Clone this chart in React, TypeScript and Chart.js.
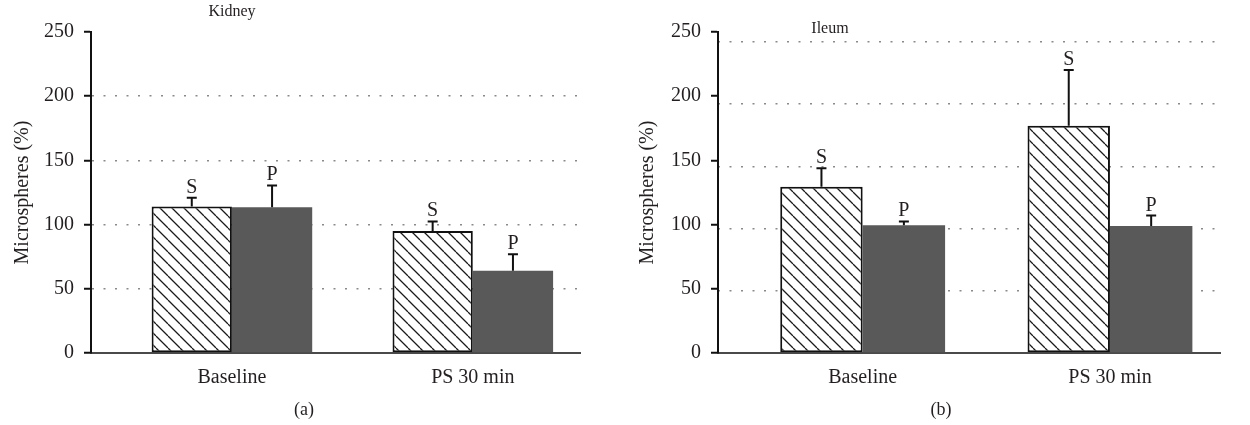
import { useEffect, useRef } from 'react';
import { Chart, registerables } from 'chart.js';
Chart.register(...registerables);

// ---- data ----
const categories = ['Baseline', 'PS 30 min'];
const seriesNames = ['S', 'P'];
const yTicks = [0, 50, 100, 150, 200, 250];
const panelTitles = ['Kidney', 'Ileum'];
const panelLetters = ['(a)', '(b)'];

const kidneyS = [114, 95];
const kidneyP = [113.5, 64];
const kidneySErr = [7, 7.5];
const kidneyPErr = [17, 13];

const ileumS = [129.5, 177];
const ileumP = [99.5, 99];
const ileumSErr = [14.3, 43.5];
const ileumPErr = [3, 8];

const FONT = '"Liberation Serif", "DejaVu Serif", serif';
const TEXT = '#231f20';

function makeHatch(): CanvasPattern | string {
  const p = 12;
  const c = document.createElement('canvas');
  c.width = p;
  c.height = p;
  const g = c.getContext('2d');
  if (!g) return '#fff';
  g.fillStyle = '#fff';
  g.fillRect(0, 0, p, p);
  g.strokeStyle = '#1a1a1a';
  g.lineWidth = 1.3;
  g.beginPath();
  for (let k = -1; k <= 1; k++) {
    g.moveTo(k * p, 0);
    g.lineTo(k * p + p, p);
  }
  g.stroke();
  return g.createPattern(c, 'repeat') || '#fff';
}

const errorPlugin = {
  id: 'errBars',
  afterDatasetsDraw(chart: any, _args: any, opts: any) {
    const { ctx } = chart;
    const ys = chart.scales.y;
    chart.data.datasets.forEach((ds: any, i: number) => {
      const meta = chart.getDatasetMeta(i);
      const errs = opts.errors[i];
      meta.data.forEach((el: any, j: number) => {
        const v = ds.data[j].y;
        const x = el.x;
        const y0 = ys.getPixelForValue(v);
        const y1 = ys.getPixelForValue(v + errs[j]);
        ctx.save();
        ctx.strokeStyle = '#111';
        ctx.lineWidth = 2;
        ctx.beginPath();
        ctx.moveTo(x, y0);
        ctx.lineTo(x, y1);
        ctx.moveTo(x - 5, y1);
        ctx.lineTo(x + 5, y1);
        ctx.stroke();
        ctx.fillStyle = TEXT;
        ctx.font = `20px ${FONT}`;
        ctx.textAlign = 'center';
        ctx.textBaseline = 'alphabetic';
        ctx.fillText(ds.label, x, y1 - 5);
        ctx.restore();
      });
    });
  },
};

const textPlugin = {
  id: 'panelText',
  afterDraw(chart: any, _args: any, opts: any) {
    const { ctx } = chart;
    ctx.save();
    ctx.fillStyle = TEXT;
    ctx.textAlign = 'center';
    ctx.textBaseline = 'middle';
    ctx.font = `16px ${FONT}`;
    ctx.fillText(opts.title, opts.titleX, opts.titleY);
    ctx.font = `18px ${FONT}`;
    ctx.fillText(opts.letter, opts.letterX, opts.letterY);
    ctx.restore();
  },
};

interface PanelProps {
  s: number[];
  p: number[];
  sErr: number[];
  pErr: number[];
  title: string;
  letter: string;
  axisWidth: number;
  rightPad: number;
  titleX: number;
  titleY: number;
  letterX: number;
  letterY: number;
  shiftedGrid: boolean;
  left: number;
}

const DOT_DASH = [2, 9.5];

function Panel(props: PanelProps) {
  const ref = useRef<HTMLCanvasElement>(null);
  useEffect(() => {
    if (!ref.current) return;
    const hatch = makeHatch();
    const dotted = '#8a8a8a';
    const scales: any = {
      x: {
        type: 'linear',
        min: 0.415,
        max: 2.445,
        offset: false,
        grid: { display: false, offset: false },
        border: { display: true, color: '#4a4a4a', width: 2 },
        afterBuildTicks: (scale: any) => {
          scale.ticks = categories.map((_, i) => ({ value: i + 1 }));
        },
        afterFit: (scale: any) => {
          scale.height = 72;
        },
        ticks: {
          autoSkip: false,
          maxRotation: 0,
          padding: 5,
          color: TEXT,
          font: { family: FONT, size: 20 },
          callback: (v: number) => categories[v - 1],
        },
      },
      y: {
        type: 'linear',
        min: 0,
        max: 250,
        afterBuildTicks: (scale: any) => {
          scale.ticks = yTicks.map((v) => ({ value: v }));
        },
        afterFit: (scale: any) => {
          scale.width = props.axisWidth;
        },
        border: { display: true, color: '#111', width: 2, dash: DOT_DASH, dashOffset: 0 },
        grid: {
          color: (c: any) =>
            !props.shiftedGrid && c.tick && c.tick.value > 0 && c.tick.value < 250 ? dotted : 'rgba(0,0,0,0)',
          lineWidth: 1.5,
          tickColor: '#111',
          tickWidth: 2,
          tickBorderDash: [],
          tickLength: 7,
          drawTicks: true,
        },
        ticks: {
          padding: 10,
          color: TEXT,
          font: { family: FONT, size: 20 },
        },
        title: {
          display: true,
          text: 'Microspheres (%)',
          color: TEXT,
          font: { family: FONT, size: 20 },
          padding: { top: 11, bottom: 0 },
        },
      },
    };
    if (props.shiftedGrid) {
      scales.y2 = {
        type: 'linear',
        position: 'left',
        min: 0,
        max: 258,
        afterBuildTicks: (scale: any) => {
          scale.ticks = yTicks.map((v) => ({ value: v }));
        },
        afterFit: (scale: any) => {
          scale.width = 0;
        },
        ticks: { display: false },
        border: { display: false, dash: DOT_DASH, dashOffset: 0 },
        grid: {
          color: (c: any) => (c.tick && c.tick.value > 0 ? dotted : 'rgba(0,0,0,0)'),
          lineWidth: 1.5,
          drawTicks: false,
        },
      };
    }
    const chart = new Chart(ref.current, {
      type: 'bar',
      data: {
        datasets: [
          {
            label: seriesNames[0],
            data: categories.map((_, i) => ({ x: i + 1, y: props.s[i] })),
            backgroundColor: hatch as any,
            borderColor: '#111',
            borderWidth: 2,
            borderSkipped: false,
          },
          {
            label: seriesNames[1],
            data: categories.map((_, i) => ({ x: i + 1, y: props.p[i] })),
            backgroundColor: '#595959',
            borderWidth: 0,
          },
        ],
      },
      options: {
        animation: false,
        responsive: false,
        maintainAspectRatio: false,
        categoryPercentage: 2 / 3,
        barPercentage: 1,
        layout: { padding: { left: 0, top: 32, right: props.rightPad, bottom: 0 } },
        scales,
        plugins: {
          legend: { display: false },
          tooltip: { enabled: false },
          errBars: { errors: [props.sErr, props.pErr] },
          panelText: {
            title: props.title,
            letter: props.letter,
            titleX: props.titleX,
            titleY: props.titleY,
            letterX: props.letterX,
            letterY: props.letterY,
          },
        } as any,
      } as any,
      plugins: [errorPlugin, textPlugin],
    });
    return () => chart.destroy();
  }, []);
  return (
    <canvas
      ref={ref}
      width={625}
      height={425}
      style={{ position: 'absolute', left: props.left, top: 0, width: 625, height: 425 }}
    />
  );
}

export default function App() {
  return (
    <div style={{ position: 'absolute', left: 0, top: 0, width: 1250, height: 425, background: '#fff' }}>
      <Panel
        s={kidneyS}
        p={kidneyP}
        sErr={kidneySErr}
        pErr={kidneyPErr}
        title={panelTitles[0]}
        letter={panelLetters[0]}
        axisWidth={91}
        rightPad={45}
        titleX={232}
        titleY={12}
        letterX={304}
        letterY={410}
        shiftedGrid={false}
        left={0}
      />
      <Panel
        s={ileumS}
        p={ileumP}
        sErr={ileumSErr}
        pErr={ileumPErr}
        title={panelTitles[1]}
        letter={panelLetters[1]}
        axisWidth={93}
        rightPad={30}
        titleX={205}
        titleY={29}
        letterX={316}
        letterY={410}
        shiftedGrid={true}
        left={625}
      />
    </div>
  );
}
